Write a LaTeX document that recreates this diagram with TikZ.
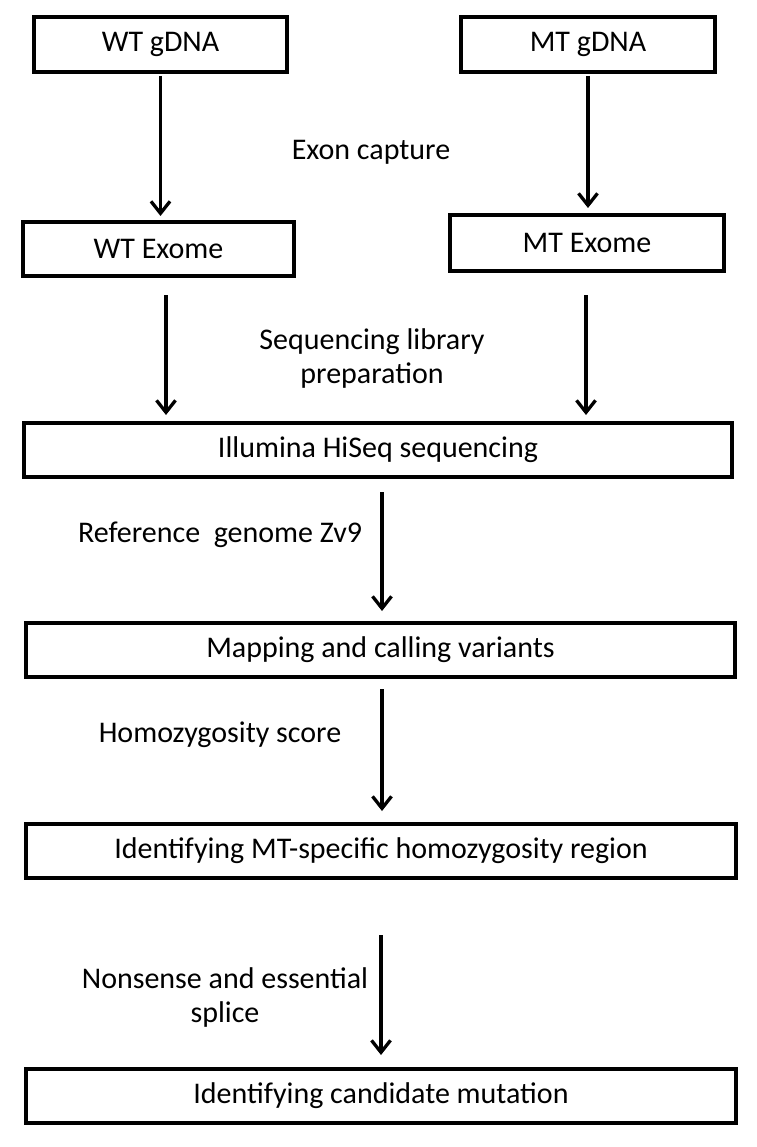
\documentclass[tikz,border=0pt]{standalone}
\usepackage{fontspec}
\setmainfont{Carlito}
\usetikzlibrary{arrows.meta}

\tikzset{
  stepbox/.style={draw, line width=4pt, inner sep=0pt, minimum height=54pt, font=\fontsize{30}{34}\selectfont},
  flow/.style={-{Straight Barb[length=12pt,width=19pt]}, line width=3.3pt},
  note/.style={align=center, font=\fontsize{30}{34}\selectfont}
}

\begin{document}
\begin{tikzpicture}[x=1pt, y=-1pt]
\useasboundingbox (0,0) rectangle (756,1147);

% Draw the boxes
\node[stepbox, minimum width=253pt, minimum height=55pt] (wtg) at (160.5,44.5) {WT gDNA};
\node[stepbox, minimum width=254pt, minimum height=55pt] (mtg) at (588,44.5) {MT gDNA};
\node[stepbox, minimum width=271pt] (wte) at (158.5,249) {WT Exome};
\node[stepbox, minimum width=274pt, minimum height=56pt] (mte) at (587,243) {MT Exome};
\node[stepbox, minimum width=708pt] (seq) at (378,450) {Illumina HiSeq sequencing};
\node[stepbox, minimum width=709pt] (map) at (380.5,650) {Mapping and calling variants};
\node[stepbox, minimum width=710pt] (mts) at (381,851) {Identifying MT-specific homozygosity region};
\node[stepbox, minimum width=710pt] (cand) at (381,1096) {Identifying candidate mutation};

% Insert the step labels
\node[note] (capture) at (371,152) {Exon capture};
\node[note] (library) at (372,359) {Sequencing library\\preparation};
\node[note] (refgen) at (220,535) {Reference\ \ genome Zv9};
\node[note] (homscore) at (220,735) {Homozygosity score};
\node[note] (splice) at (225,997) {Nonsense and essential\\splice};

% Draw the arrows
\draw[flow, shorten <=2pt, shorten >=4pt] (wtg.south) -- (wtg.south |- wte.north);
\draw[flow, shorten <=2pt, shorten >=5pt] (mtg.south) -- (mtg.south |- mte.north);
\draw[flow, shorten <=17pt, shorten >=6pt] ([xshift=7.5pt]wte.south) -- ([xshift=7.5pt]wte.south |- seq.north);
\draw[flow, shorten <=22pt, shorten >=6pt] ([xshift=-1pt]mte.south) -- ([xshift=-1pt]mte.south |- seq.north);
\draw[flow, shorten <=13pt, shorten >=10pt] ([xshift=4pt]seq.south) -- ([xshift=4pt]seq.south |- map.north);
\draw[flow, shorten <=10pt, shorten >=11pt] ([xshift=1.5pt]map.south) -- ([xshift=1.5pt]map.south |- mts.north);
\draw[flow, shorten <=55pt, shorten >=12pt] (mts.south) -- (mts.south |- cand.north);
\end{tikzpicture}
\end{document}
